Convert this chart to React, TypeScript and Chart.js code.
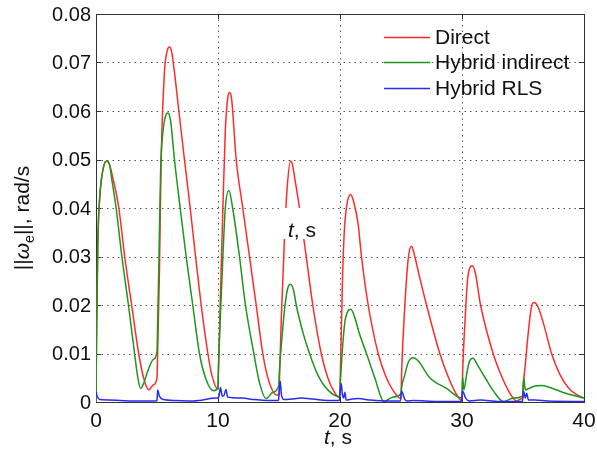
import React, { useEffect, useRef } from "react";
import { Chart, registerables } from "chart.js";

Chart.register(...registerables);

const FONT = "'Liberation Sans', Arial, Helvetica, sans-serif";

// ---- Data ----
const tDirect = [
  0, 0.05, 0.15, 0.3, 0.45, 0.7, 0.89, 1.1, 1.4, 1.87, 2.35, 2.92, 3.5, 3.9, 4.33, 4.7, 5.0,
  5.05, 5.2, 5.34, 5.61, 5.85, 6.02, 6.2, 6.43, 6.79, 7.25, 7.72, 8.16, 8.62, 9.17, 9.5, 9.98,
  10.05, 10.2, 10.4, 10.6, 10.8, 10.94, 11.1, 11.49, 12.03, 12.58, 13.13, 13.67, 14.2, 14.85, 15.0,
  15.05, 15.2, 15.45, 15.65, 15.94, 16.1, 16.3, 16.68, 17.23, 17.77, 18.46, 19.0, 19.5, 19.96,
  20.05, 20.2, 20.35, 20.55, 20.86, 21.1, 21.49, 21.76, 22.31, 23.13, 23.8, 24.4, 25.0,
  25.05, 25.3, 25.6, 25.86, 26.13, 26.5, 27.09, 28.18, 28.9, 29.5, 30.0,
  30.05, 30.23, 30.5, 30.86, 31.1, 31.52, 32.55, 33.3, 34.0, 34.47, 34.8, 35.0,
  35.05, 35.2, 35.4, 35.67, 35.89, 36.2, 36.7, 37.34, 38.0, 38.7, 39.4, 40,
];
const vDirect = [
  0, 0.015, 0.033, 0.042, 0.046, 0.0492, 0.0497, 0.049, 0.046, 0.04, 0.03, 0.02, 0.01, 0.005, 0.0025, 0.0035, 0.0049,
  0.01, 0.027, 0.05, 0.068, 0.0725, 0.0732, 0.0722, 0.068, 0.06, 0.05, 0.04, 0.03, 0.02, 0.01, 0.0055, 0.0027,
  0.008, 0.022, 0.04, 0.056, 0.0627, 0.0638, 0.0628, 0.05, 0.04, 0.03, 0.02, 0.01, 0.004, 0.0014, 0.0016,
  0.006, 0.018, 0.034, 0.0435, 0.0497, 0.049, 0.046, 0.04, 0.03, 0.02, 0.01, 0.005, 0.0022, 0.0009,
  0.008, 0.025, 0.035, 0.0405, 0.0428, 0.0415, 0.0366, 0.03, 0.02, 0.01, 0.005, 0.0022, 0.0007,
  0.006, 0.0193, 0.0297, 0.0321, 0.03, 0.026, 0.02, 0.01, 0.005, 0.0018, 0.0003,
  0.006, 0.0159, 0.0262, 0.0281, 0.0265, 0.02, 0.01, 0.005, 0.0015, 0.0002, 0.0006, 0.001,
  0.004, 0.008, 0.0135, 0.0193, 0.0205, 0.0198, 0.016, 0.01, 0.0058, 0.003, 0.0015, 0.0008,
];

const tIndirect = [
  0, 0.05, 0.15, 0.3, 0.45, 0.7, 0.89, 1.1, 1.35, 1.65, 2.12, 2.66, 3.16, 3.4, 3.65, 3.9, 4.26, 4.7, 5.0,
  5.05, 5.15, 5.3, 5.5, 5.7, 5.89, 6.1, 6.43, 6.9, 7.39, 7.93, 8.48, 9.0, 9.63, 10.0,
  10.05, 10.2, 10.4, 10.6, 10.89, 11.2, 11.76, 12.25, 12.94, 13.4, 13.95, 14.5, 14.98,
  15.05, 15.2, 15.45, 15.7, 15.94, 16.2, 16.41, 17.0, 17.5, 18.2, 19.0, 19.96,
  20.05, 20.2, 20.4, 20.6, 20.89, 21.2, 21.6, 22.17, 22.85, 23.6, 24.3, 25.0,
  25.05, 25.3, 25.6, 26.0, 26.4, 27.36, 28.73, 30.0,
  30.05, 30.15, 30.4, 30.6, 30.9, 31.3, 31.9, 32.6, 33.4, 34.2, 34.96,
  35.05, 35.2, 35.5, 36.0, 36.5, 37.2, 38.5, 40,
];
const vIndirect = [
  0, 0.015, 0.033, 0.042, 0.046, 0.0492, 0.0497, 0.049, 0.045, 0.04, 0.03, 0.02, 0.01, 0.0055, 0.0028, 0.0038, 0.0065, 0.0088, 0.0104,
  0.016, 0.028, 0.048, 0.056, 0.059, 0.0596, 0.0582, 0.05, 0.04, 0.03, 0.02, 0.01, 0.0048, 0.0023, 0.003,
  0.008, 0.018, 0.03, 0.04, 0.0436, 0.04, 0.03, 0.02, 0.01, 0.004, 0.0007, 0.002, 0.0034,
  0.007, 0.012, 0.019, 0.0233, 0.0243, 0.023, 0.02, 0.014, 0.01, 0.0055, 0.0025, 0.0011,
  0.005, 0.011, 0.0165, 0.0185, 0.0191, 0.0175, 0.014, 0.01, 0.005, 0.0001, 0.001, 0.0017,
  0.003, 0.0055, 0.0082, 0.0091, 0.0085, 0.005, 0.0028, 0.0008,
  0.0052, 0.0025, 0.006, 0.0083, 0.009, 0.0075, 0.005, 0.0022, 0.0001, 0.0008, 0.0012,
  0.005, 0.0025, 0.0028, 0.0033, 0.0034, 0.003, 0.0018, 0.0008,
];

const tRLS = [
  0, 0.1, 0.3, 1, 2, 3, 4.9,
  5.0, 5.05, 5.2, 5.5, 6.5, 8, 9.9,
  10.0, 10.1, 10.2, 10.35, 10.5, 10.65, 10.8, 11.2, 12, 13, 14, 14.95,
  15.0, 15.1, 15.2, 15.4, 16, 16.8, 17.8, 19, 19.95,
  20.0, 20.1, 20.2, 20.3, 20.4, 20.5, 21, 21.5, 22.5, 24, 24.95,
  25.05, 25.3, 25.5, 26, 28, 29.95,
  30.05, 30.3, 30.6, 31.5, 33, 34.95,
  35.05, 35.2, 35.3, 35.45, 36, 37, 40,
];
const vRLS = [
  0.0022, 0.0012, 0.0005, 0.0004, 0.0003, 0.0002, 0.0002,
  0.0003, 0.0025, 0.0012, 0.0005, 0.0003, 0.0002, 0.0008,
  0.0008, 0.0015, 0.003, 0.0012, 0.0014, 0.0026, 0.001, 0.0009, 0.0008, 0.0005, 0.0003, 0.0003,
  0.0015, 0.0043, 0.0015, 0.0005, 0.0006, 0.0008, 0.0006, 0.0003, 0.0003,
  0.0015, 0.0038, 0.0015, 0.0008, 0.002, 0.0004, 0.0006, 0.0007, 0.0004, 0.0002, 0.0002,
  0.0022, 0.0006, 0.0002, 0.0003, 0.0001, 0.0001,
  0.0022, 0.0008, 0.0002, 0.0004, 0.0001, 0.0001,
  0.0022, 0.0008, 0.0018, 0.0004, 0.0004, 0.0002, 0.0001,
];

const seriesLabels = ["Direct", "Hybrid indirect", "Hybrid RLS"];
const seriesColors = ["#ff2b2b", "#1e961e", "#2a2aff"];

const xTickValues = [0, 10, 20, 30, 40];
const xTickLabels = ["0", "10", "20", "30", "40"];
const yTickValues = [0, 0.01, 0.02, 0.03, 0.04, 0.05, 0.06, 0.07, 0.08];
const yTickLabels = ["0", "0.01", "0.02", "0.03", "0.04", "0.05", "0.06", "0.07", "0.08"];

const toPoints = (t: number[], v: number[]) => t.map((x, i) => ({ x, y: v[i] }));

const framePlugin = {
  id: "frame",
  beforeDatasetsDraw(chart: any) {
    const { ctx, chartArea: a, scales } = chart;
    const xs = scales.x;
    const ys = scales.y;
    ctx.save();
    // dotted grid
    ctx.strokeStyle = "#555";
    ctx.lineWidth = 1;
    ctx.setLineDash([1.5, 4]);
    xTickValues.forEach((v) => {
      const px = Math.round(xs.getPixelForValue(v)) + 0.5;
      if (px <= a.left + 1 || px >= a.right - 1) return;
      ctx.beginPath();
      ctx.moveTo(px, a.top);
      ctx.lineTo(px, a.bottom);
      ctx.stroke();
    });
    yTickValues.forEach((v) => {
      const py = Math.round(ys.getPixelForValue(v)) + 0.5;
      if (py <= a.top + 1 || py >= a.bottom - 1) return;
      ctx.beginPath();
      ctx.moveTo(a.left, py);
      ctx.lineTo(a.right, py);
      ctx.stroke();
    });
    ctx.setLineDash([]);
    // box
    ctx.strokeStyle = "#333";
    ctx.strokeRect(Math.round(a.left) + 0.5, Math.round(a.top) + 0.5, Math.round(a.right - a.left), Math.round(a.bottom - a.top));
    // inward tick marks
    const L = 5;
    ctx.beginPath();
    xTickValues.forEach((v) => {
      const px = Math.round(xs.getPixelForValue(v)) + 0.5;
      ctx.moveTo(px, a.bottom);
      ctx.lineTo(px, a.bottom - L);
      ctx.moveTo(px, a.top);
      ctx.lineTo(px, a.top + L);
    });
    yTickValues.forEach((v) => {
      const py = Math.round(ys.getPixelForValue(v)) + 0.5;
      ctx.moveTo(a.left, py);
      ctx.lineTo(a.left + L, py);
      ctx.moveTo(a.right, py);
      ctx.lineTo(a.right - L, py);
    });
    ctx.stroke();

    // tick labels
    ctx.fillStyle = "#111";
    ctx.font = `20px ${FONT}`;
    ctx.textAlign = "right";
    ctx.textBaseline = "middle";
    yTickValues.forEach((v, i) => {
      ctx.fillText(yTickLabels[i], a.left - 5, ys.getPixelForValue(v) + 1);
    });
    ctx.font = `21px ${FONT}`;
    ctx.textAlign = "center";
    ctx.textBaseline = "alphabetic";
    xTickValues.forEach((v, i) => {
      ctx.fillText(xTickLabels[i], xs.getPixelForValue(v), a.bottom + 25);
    });
    ctx.restore();
  },
  afterDatasetsDraw(chart: any) {
    const { ctx } = chart;
    ctx.save();
    ctx.textAlign = "left";
    // stray "t, s" label inside plot (with white background)
    ctx.fillStyle = "#fff";
    ctx.fillRect(283, 208, 36, 31);
    ctx.fillStyle = "#111";
    ctx.textBaseline = "alphabetic";
    ctx.font = `italic 21px ${FONT}`;
    const tw = ctx.measureText("t").width;
    ctx.font = `21px ${FONT}`;
    const rw = ctx.measureText(", s").width;
    let sx = 302 - (tw + rw) / 2;
    ctx.font = `italic 21px ${FONT}`;
    ctx.fillText("t", sx, 237);
    ctx.font = `21px ${FONT}`;
    ctx.fillText(", s", sx + tw, 237);

    // legend
    const rows = [37, 62, 88];
    chart.data.datasets.forEach((ds: any, i: number) => {
      ctx.strokeStyle = ds.borderColor;
      ctx.lineWidth = 1.5;
      ctx.beginPath();
      ctx.moveTo(384, rows[i] + 0.5);
      ctx.lineTo(430, rows[i] + 0.5);
      ctx.stroke();
      ctx.fillStyle = "#111";
      ctx.font = `21px ${FONT}`;
      ctx.textBaseline = "middle";
      ctx.fillText(ds.label, 435, rows[i] + 1);
    });

    // x-axis title
    ctx.textBaseline = "alphabetic";
    ctx.font = `italic 21px ${FONT}`;
    const tw2 = ctx.measureText("t").width;
    ctx.font = `21px ${FONT}`;
    const rw2 = ctx.measureText(", s").width;
    sx = 338 - (tw2 + rw2) / 2;
    ctx.font = `italic 21px ${FONT}`;
    ctx.fillText("t", sx, 444);
    ctx.font = `21px ${FONT}`;
    ctx.fillText(", s", sx + tw2, 444);

    // y-axis title  ||ω_e||, rad/s
    ctx.translate(29, 218);
    ctx.rotate(-Math.PI / 2);
    const parts = [
      { s: "||", f: `21px ${FONT}`, dy: 0 },
      { s: "ω", f: `italic 21px ${FONT}`, dy: 0 },
      { s: "e", f: `14px ${FONT}`, dy: 5 },
      { s: "||, rad/s", f: `21px ${FONT}`, dy: 0 },
    ];
    let total = 0;
    const widths = parts.map((p) => {
      ctx.font = p.f;
      const w = ctx.measureText(p.s).width;
      total += w;
      return w;
    });
    let cx = -total / 2;
    parts.forEach((p, i) => {
      ctx.font = p.f;
      ctx.fillText(p.s, cx, p.dy);
      cx += widths[i];
    });
    ctx.restore();
  },
};

export default function App() {
  const ref = useRef<HTMLCanvasElement | null>(null);
  useEffect(() => {
    document.body.style.margin = "0";
    const canvas = ref.current;
    if (!canvas) return;
    const chart = new Chart(canvas, {
      type: "line",
      data: {
        datasets: [
          {
            label: seriesLabels[0],
            data: toPoints(tDirect, vDirect),
            borderColor: seriesColors[0],
            borderWidth: 1.5,
            pointRadius: 0,
            cubicInterpolationMode: "monotone",
            order: 2,
          },
          {
            label: seriesLabels[1],
            data: toPoints(tIndirect, vIndirect),
            borderColor: seriesColors[1],
            borderWidth: 1.5,
            pointRadius: 0,
            cubicInterpolationMode: "monotone",
            order: 1,
          },
          {
            label: seriesLabels[2],
            data: toPoints(tRLS, vRLS),
            borderColor: seriesColors[2],
            borderWidth: 1.5,
            pointRadius: 0,
            cubicInterpolationMode: "monotone",
            order: 0,
          },
        ],
      },
      options: {
        animation: false,
        responsive: false,
        maintainAspectRatio: false,
        devicePixelRatio: 1,
        layout: { padding: { left: 0, right: 13, top: 14, bottom: 0 } },
        plugins: {
          legend: { display: false },
          tooltip: { enabled: false },
        },
        scales: {
          x: {
            type: "linear",
            min: 0,
            max: 40,
            afterBuildTicks: (scale: any) => {
              scale.ticks = xTickValues.map((value) => ({ value }));
            },
            afterFit: (scale: any) => {
              scale.height = 53;
            },
            grid: { display: false, drawTicks: false },
            border: { display: false },
            ticks: { display: false },
          },
          y: {
            type: "linear",
            min: 0,
            max: 0.08,
            afterBuildTicks: (scale: any) => {
              scale.ticks = yTickValues.map((value) => ({ value }));
            },
            afterFit: (scale: any) => {
              scale.width = 96;
            },
            grid: { display: false, drawTicks: false },
            border: { display: false },
            ticks: { display: false },
          },
        },
      },
      plugins: [framePlugin],
    });
    return () => chart.destroy();
  }, []);
  return (
    <div style={{ width: 597, height: 455, background: "#fff" }}>
      <canvas ref={ref} width={597} height={455} style={{ display: "block", width: 597, height: 455 }} />
    </div>
  );
}
